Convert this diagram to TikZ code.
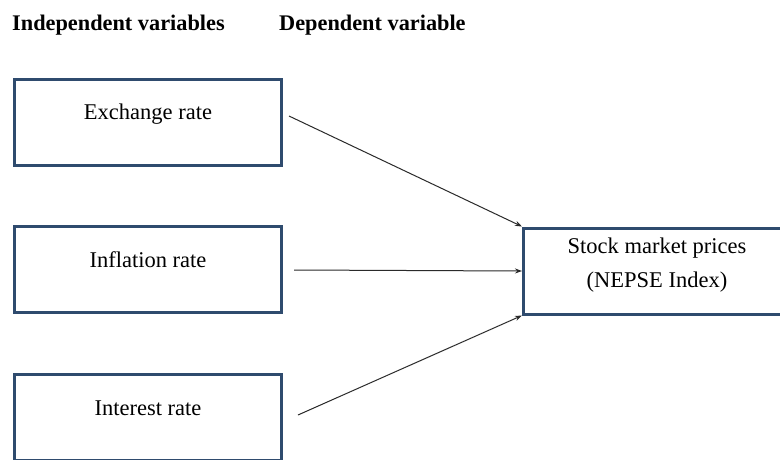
\documentclass[tikz,border=0pt]{standalone}
\usepackage{fontspec}
\setmainfont{Liberation Serif}
\usetikzlibrary{arrows.meta, positioning}
\definecolor{boxblue}{HTML}{2F4B6E}
\definecolor{flowgray}{HTML}{2A2A2A}

\begin{document}
\begin{tikzpicture}[x=1pt, y=-1pt,
        varbox/.style = {draw=boxblue, line width=3pt, minimum width=267pt, minimum height=86pt,
                         font=\fontsize{22.5}{32}\selectfont, text height=16pt, text depth=21pt},
        headtext/.style = {anchor=base west, font=\fontsize{22.3}{26}\selectfont\bfseries, inner sep=0pt},
        flow/.style = {draw=flowgray, line width=1pt, -{Stealth[length=7pt, width=5pt]}}]
    \clip (0,0) rectangle (780,459);
    \fill[white] (0,0) rectangle (780,459);
    % headings
    \node[headtext] (indep) at (12,30) {Independent variables};
    \node[headtext] (dep) at (279,30) {Dependent variable};
    % independent variables
    \node[varbox] (exch) at (148,122) {Exchange rate};
    \node[varbox] (infl) at (148,269.5) {Inflation rate};
    \node[varbox] (intr) at (148,417.5) {Interest rate};
    % dependent variable
    \node[varbox, align=center, text height=48pt, text depth=16pt] (stock) at (657,271) {Stock market prices\\[2pt](NEPSE Index)};
    % arrows
    \draw[flow] ([xshift=6pt, yshift=6pt]exch.east) -- (stock.north west);
    \draw[flow] ([xshift=11pt, yshift=-0.5pt]infl.east) -- (stock.west);
    \draw[flow] ([xshift=15pt, yshift=2.5pt]intr.east) -- (stock.south west);
\end{tikzpicture}
\end{document}
